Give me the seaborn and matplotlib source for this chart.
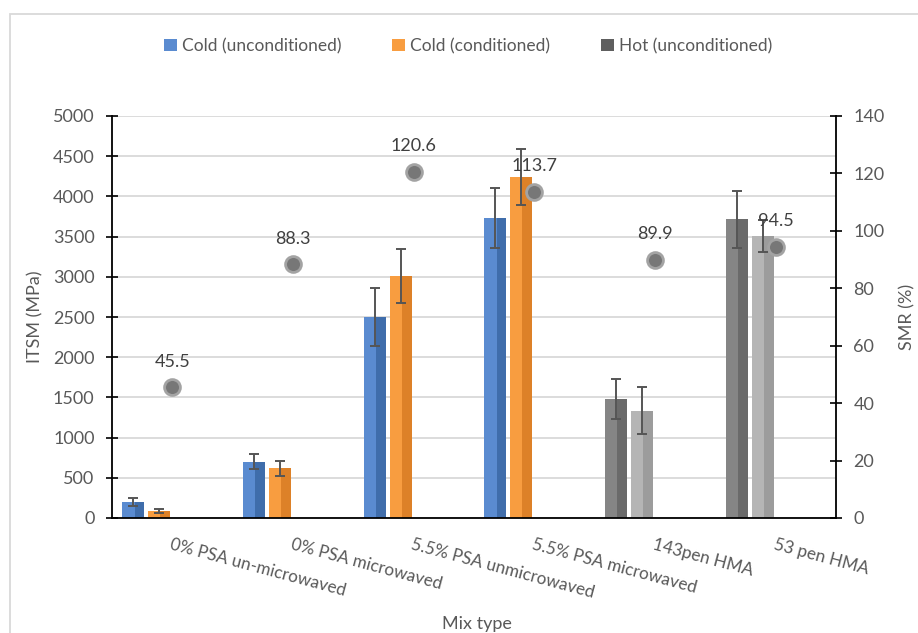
import numpy as np
import pandas as pd
import matplotlib
matplotlib.use("Agg")
import matplotlib.pyplot as plt
from matplotlib.patches import Rectangle, Patch
import seaborn as sns

mix_types = ["0% PSA un-microwaved", "0% PSA microwaved", "5.5% PSA unmicrowaved",
             "5.5% PSA microwaved", "143pen HMA", "53 pen HMA"]
itsm_uncond = [195, 700, 2500, 3730, 1480, 3715]
itsm_uncond_err = [50, 95, 360, 370, 250, 355]
itsm_cond = [87, 618, 3010, 4240, 1335, 3505]
itsm_cond_err = [25, 95, 340, 350, 290, 200]
smr = [45.5, 88.3, 120.6, 113.7, 89.9, 94.5]
hot_mixes = ["143pen HMA", "53 pen HMA"]

legend_labels = ["Cold (unconditioned)", "Cold (conditioned)", "Hot (unconditioned)"]

# colours: cold uncond / cold cond / hot uncond / hot cond
c_blue, c_orange = "#5a8bd0", "#f89d40"
c_dgrey, c_lgrey = "#858585", "#b5b5b5"
shade = {c_blue: "#3f6dab", c_orange: "#dd8128", c_dgrey: "#6a6a6a", c_lgrey: "#9c9c9c"}
txt = "#595959"

df = pd.DataFrame({
    "mix": mix_types * 2,
    "state": ["unconditioned"] * 6 + ["conditioned"] * 6,
    "itsm": itsm_uncond + itsm_cond,
})
errs = dict(zip(itsm_uncond + itsm_cond, itsm_uncond_err + itsm_cond_err))

sns.set_style("white")
plt.rcParams["font.family"] = ["Lato", "DejaVu Sans"]

fig = plt.figure(figsize=(9.18, 6.33), dpi=100)
ax = fig.add_axes([112 / 918, 1 - 518 / 633, 724 / 918, 402 / 633])

hue_order = ["unconditioned", "conditioned", "slot3", "slot4"]
sns.barplot(data=df, x="mix", y="itsm", hue="state", order=mix_types, hue_order=hue_order,
            palette={"unconditioned": c_blue, "conditioned": c_orange,
                     "slot3": "w", "slot4": "w"},
            width=0.86, gap=0.15, errorbar=None, legend=False, ax=ax, zorder=3)

bars = [p for p in ax.patches if isinstance(p, Rectangle) and p.get_height() > 0]
for p in bars:
    w = p.get_width()
    xc = p.get_x() + w / 2
    idx = int(round(xc))
    is_first = xc < idx - 0.2
    if mix_types[idx] in hot_mixes:
        col = c_dgrey if is_first else c_lgrey
    else:
        col = c_blue if is_first else c_orange
    p.set_facecolor(col)
    p.set_edgecolor("none")
    # darker right side for a bevelled look
    ax.add_patch(Rectangle((p.get_x() + w * 0.55, 0), w * 0.45, p.get_height(),
                           facecolor=shade[col], edgecolor="none", zorder=3.1))
    ax.errorbar(xc, p.get_height(), yerr=errs[round(p.get_height())], fmt="none",
                ecolor="#555555", elinewidth=1.4, capsize=3.8, capthick=1.4, zorder=4)

ax.set_xlim(-0.5, len(mix_types) - 0.5)
ax.set_ylim(0, 5000)
ax.set_yticks(np.arange(0, 5001, 500))
ax.set_xticks(range(len(mix_types)))
ax.set_xticklabels(mix_types, rotation=-15, ha="left", rotation_mode="anchor")
ax.set_xticks(np.arange(-0.5, len(mix_types), 1), minor=True)
ax.tick_params(axis="x", which="major", length=0, pad=13, labelsize=12.3, labelcolor=txt)
ax.tick_params(axis="x", which="minor", length=9, width=1.2, direction="inout", color="black")
ax.tick_params(axis="y", length=9, width=1.2, direction="inout", color="black",
               labelsize=13, labelcolor=txt, pad=8)
ax.grid(axis="y", color="#d9d9d9", lw=1.3, zorder=0)
ax.set_axisbelow(True)
for s in ["top", "right"]:
    ax.spines[s].set_visible(False)
for s in ["left", "bottom"]:
    ax.spines[s].set_color("black")
    ax.spines[s].set_linewidth(1.3)
    ax.spines[s].set_zorder(5)

ax.set_xlabel("Mix type", fontsize=13, color=txt)
ax.set_ylabel("ITSM (MPa)", fontsize=13, color=txt)
ax.xaxis.set_label_coords(0.504, -0.245)
ax.yaxis.set_label_coords(-0.095, 0.5)

ax2 = ax.twinx()
sns.scatterplot(x=np.arange(len(mix_types)), y=smr, ax=ax2, s=130, color="#777777",
                edgecolor="#a3a3a3", linewidth=2, zorder=6)
for i, v in enumerate(smr):
    ax2.annotate(f"{v}", (i, v), xytext=(0, 18.5), textcoords="offset points",
                 ha="center", va="center", fontsize=13, color="#404040")
ax2.set_ylim(0, 140)
ax2.set_yticks(np.arange(0, 141, 20))
ax2.tick_params(axis="y", length=9, width=1.2, direction="inout", color="black",
                labelsize=13, labelcolor=txt, pad=8)
for s in ["top", "left", "bottom"]:
    ax2.spines[s].set_visible(False)
ax2.spines["right"].set_color("black")
ax2.spines["right"].set_linewidth(1.3)
ax2.set_ylabel("SMR (%)", fontsize=13, color=txt)
ax2.yaxis.set_label_coords(1.088, 0.5)

handles = [Patch(facecolor=c, edgecolor="none") for c in [c_blue, c_orange, "#5f5f5f"]]
fig.legend(handles, legend_labels, loc="center", bbox_to_anchor=(468 / 918, 1 - 46 / 633),
           ncol=3, frameon=False, fontsize=12.5, labelcolor=txt, handlelength=0.75,
           handleheight=0.75, handletextpad=0.3, columnspacing=2.9)

fig.add_artist(Rectangle((10 / 918, -0.1), 1.0, 1.1 - 14 / 633, transform=fig.transFigure,
                         fill=False, edgecolor="#d9d9d9", lw=1.3))

fig.savefig("out.png", dpi=100)
